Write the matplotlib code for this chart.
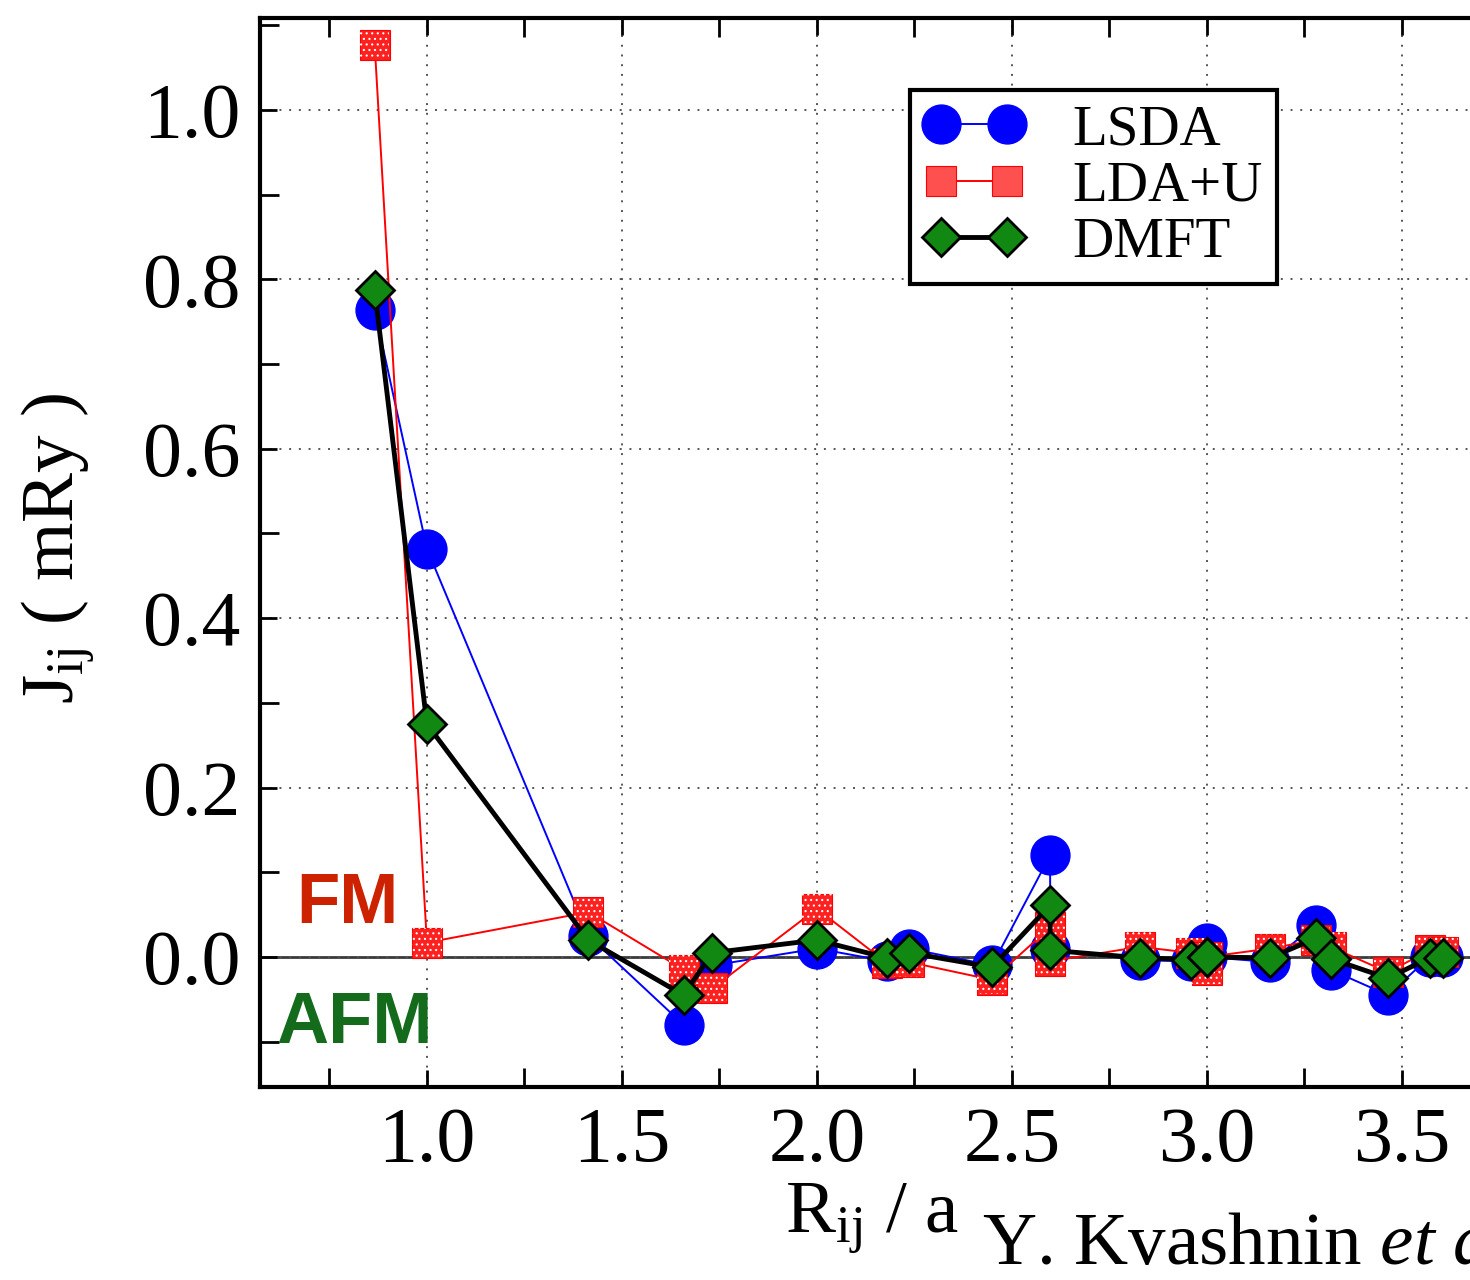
import matplotlib
matplotlib.use("Agg")

import matplotlib.pyplot as plt
from matplotlib.lines import Line2D
from matplotlib.ticker import MultipleLocator

# -----------------------------
# DANE
# -----------------------------

# R_ij / a -- kolejne sfery koordynacyjne (bcc)
r_shell = [0.866, 1.0, 1.414, 1.658, 1.732, 2.0, 2.179, 2.236, 2.449, 2.598, 2.598,
           2.828, 2.958, 3.0, 3.0, 3.162, 3.279, 3.317, 3.464, 3.571, 3.606]

j_lsda = [0.764, 0.482, 0.025, -0.080, -0.010, 0.010, -0.005, 0.010, -0.010, 0.120, 0.010,
          -0.004, -0.005, 0.016, 0.000, -0.006, 0.038, -0.015, -0.045, 0.000, 0.000]

j_ldau = [1.077, 0.017, 0.053, -0.015, -0.037, 0.057, -0.007, -0.006, -0.027, 0.035, -0.005,
          0.012, 0.005, -0.015, 0.000, 0.010, 0.020, 0.012, -0.018, 0.008, 0.006]

j_dmft = [0.787, 0.275, 0.020, -0.045, 0.005, 0.020, -0.001, 0.005, -0.012, 0.061, 0.008,
          -0.001, -0.003, 0.000, 0.000, -0.001, 0.022, -0.002, -0.025, -0.001, -0.001]

labels = ["LSDA", "LDA+U", "DMFT"]

x_ticks = [1.0, 1.5, 2.0, 2.5, 3.0, 3.5]
y_ticks = [0.0, 0.2, 0.4, 0.6, 0.8, 1.0]

# -----------------------------
# STYL
# -----------------------------

plt.rcParams["font.family"] = ["Liberation Serif", "DejaVu Serif"]
plt.rcParams["mathtext.fontset"] = "custom"
plt.rcParams["mathtext.rm"] = "Liberation Serif"
plt.rcParams["mathtext.it"] = "Liberation Serif:italic"
plt.rcParams["hatch.linewidth"] = 0.8

W, H = 1470, 1280
fig = plt.figure(figsize=(W / 100, H / 100), dpi=100, facecolor="white")

# os X: lewa krawedz 0.572, prawa poza obrazkiem
x0, x1 = 0.572, 3.75
y0, y1 = -0.1535, 1.1086
left = 260 / W
right = (260 + (x1 - x0) * 390) / W
bottom = 1 - 1087 / H
top = 1 - 18 / H
ax = fig.add_axes([left, bottom, right - left, top - bottom])

ax.set_xlim(x0, x1)
ax.set_ylim(y0, y1)

# linia zerowa
ax.axhline(0.0, color="#3a3a3a", linewidth=2.0, zorder=1)

# LSDA
line_lsda, = ax.plot(
    r_shell, j_lsda,
    color="blue", linewidth=1.4,
    marker="o", markersize=28,
    markerfacecolor="blue", markeredgecolor="blue",
    zorder=3
)

# LDA+U (kwadraty w kropki)
line_ldau, = ax.plot(
    r_shell, j_ldau,
    color="red", linewidth=1.4,
    marker="s", markersize=22,
    markerfacecolor="#ff2020", markeredgecolor="red", markeredgewidth=0.8,
    zorder=4
)
ax.scatter(
    r_shell, j_ldau,
    marker="s", s=21 ** 2,
    facecolor="none", edgecolor="white",
    hatch="...", linewidth=0.0,
    zorder=4.1
)

# DMFT
line_dmft, = ax.plot(
    r_shell, j_dmft,
    color="black", linewidth=3.5,
    marker="D", markersize=19,
    markerfacecolor="#118811", markeredgecolor="black", markeredgewidth=2.0,
    zorder=5
)

# osie
ax.xaxis.set_minor_locator(MultipleLocator(0.25))
ax.yaxis.set_minor_locator(MultipleLocator(0.1))
ax.set_xticks(x_ticks)
ax.set_yticks(y_ticks)
ax.set_xticklabels([f"{v:.1f}" for v in x_ticks])
ax.set_yticklabels([f"{v:.1f}" for v in y_ticks])

ax.tick_params(which="both", direction="in", top=True, right=True,
               width=2.0, labelsize=56)
ax.tick_params(which="major", length=12, pad=14)
ax.tick_params(which="minor", length=14)

for sp in ax.spines.values():
    sp.set_linewidth(3.0)

ax.grid(True, which="major", color="#555555", linestyle=(0, (1, 4)),
        linewidth=1.4, zorder=0)

# legenda
ldau_handle = Line2D([], [], color="red", linewidth=1.4, marker="s", markersize=22,
                     markerfacecolor="#ff5050", markeredgecolor="red",
                     markeredgewidth=0.8)
leg = ax.legend(
    [line_lsda, ldau_handle, line_dmft],
    labels,
    loc="upper left",
    bbox_to_anchor=(910 / W, 1 - 90 / H),
    bbox_transform=fig.transFigure,
    borderaxespad=0.0,
    fontsize=41,
    numpoints=2,
    handlelength=1.75,
    handletextpad=0.85,
    labelspacing=0.08,
    borderpad=0.25,
    fancybox=False,
    framealpha=1.0,
    edgecolor="black",
)
leg.get_frame().set_linewidth(3.0)

# podpisy osi
fig.text(58 / W, 1 - 548 / H, r"J$_{\rm ij}$ ( mRy )", rotation=90,
         ha="center", va="center", fontsize=54)
fig.text(872 / W, 1 - 1218 / H, r"R$_{\rm ij}$ / a",
         ha="center", va="center", fontsize=54)
fig.text(982 / W, 1 - 1246 / H, r"Y. Kvashnin $et\ al.$",
         ha="left", va="center", fontsize=54)

# FM / AFM
fig.text(347 / W, 1 - 905 / H, "FM", ha="center", va="center",
         fontsize=51, fontweight="bold", color="#cc2200",
         family=["Liberation Sans", "DejaVu Sans"])
fig.text(354 / W, 1 - 1024 / H, "AFM", ha="center", va="center",
         fontsize=52, fontweight="bold", color="#146b1c",
         family=["Liberation Sans", "DejaVu Sans"])

fig.savefig("out.png", dpi=100, facecolor="white")
plt.close(fig)
